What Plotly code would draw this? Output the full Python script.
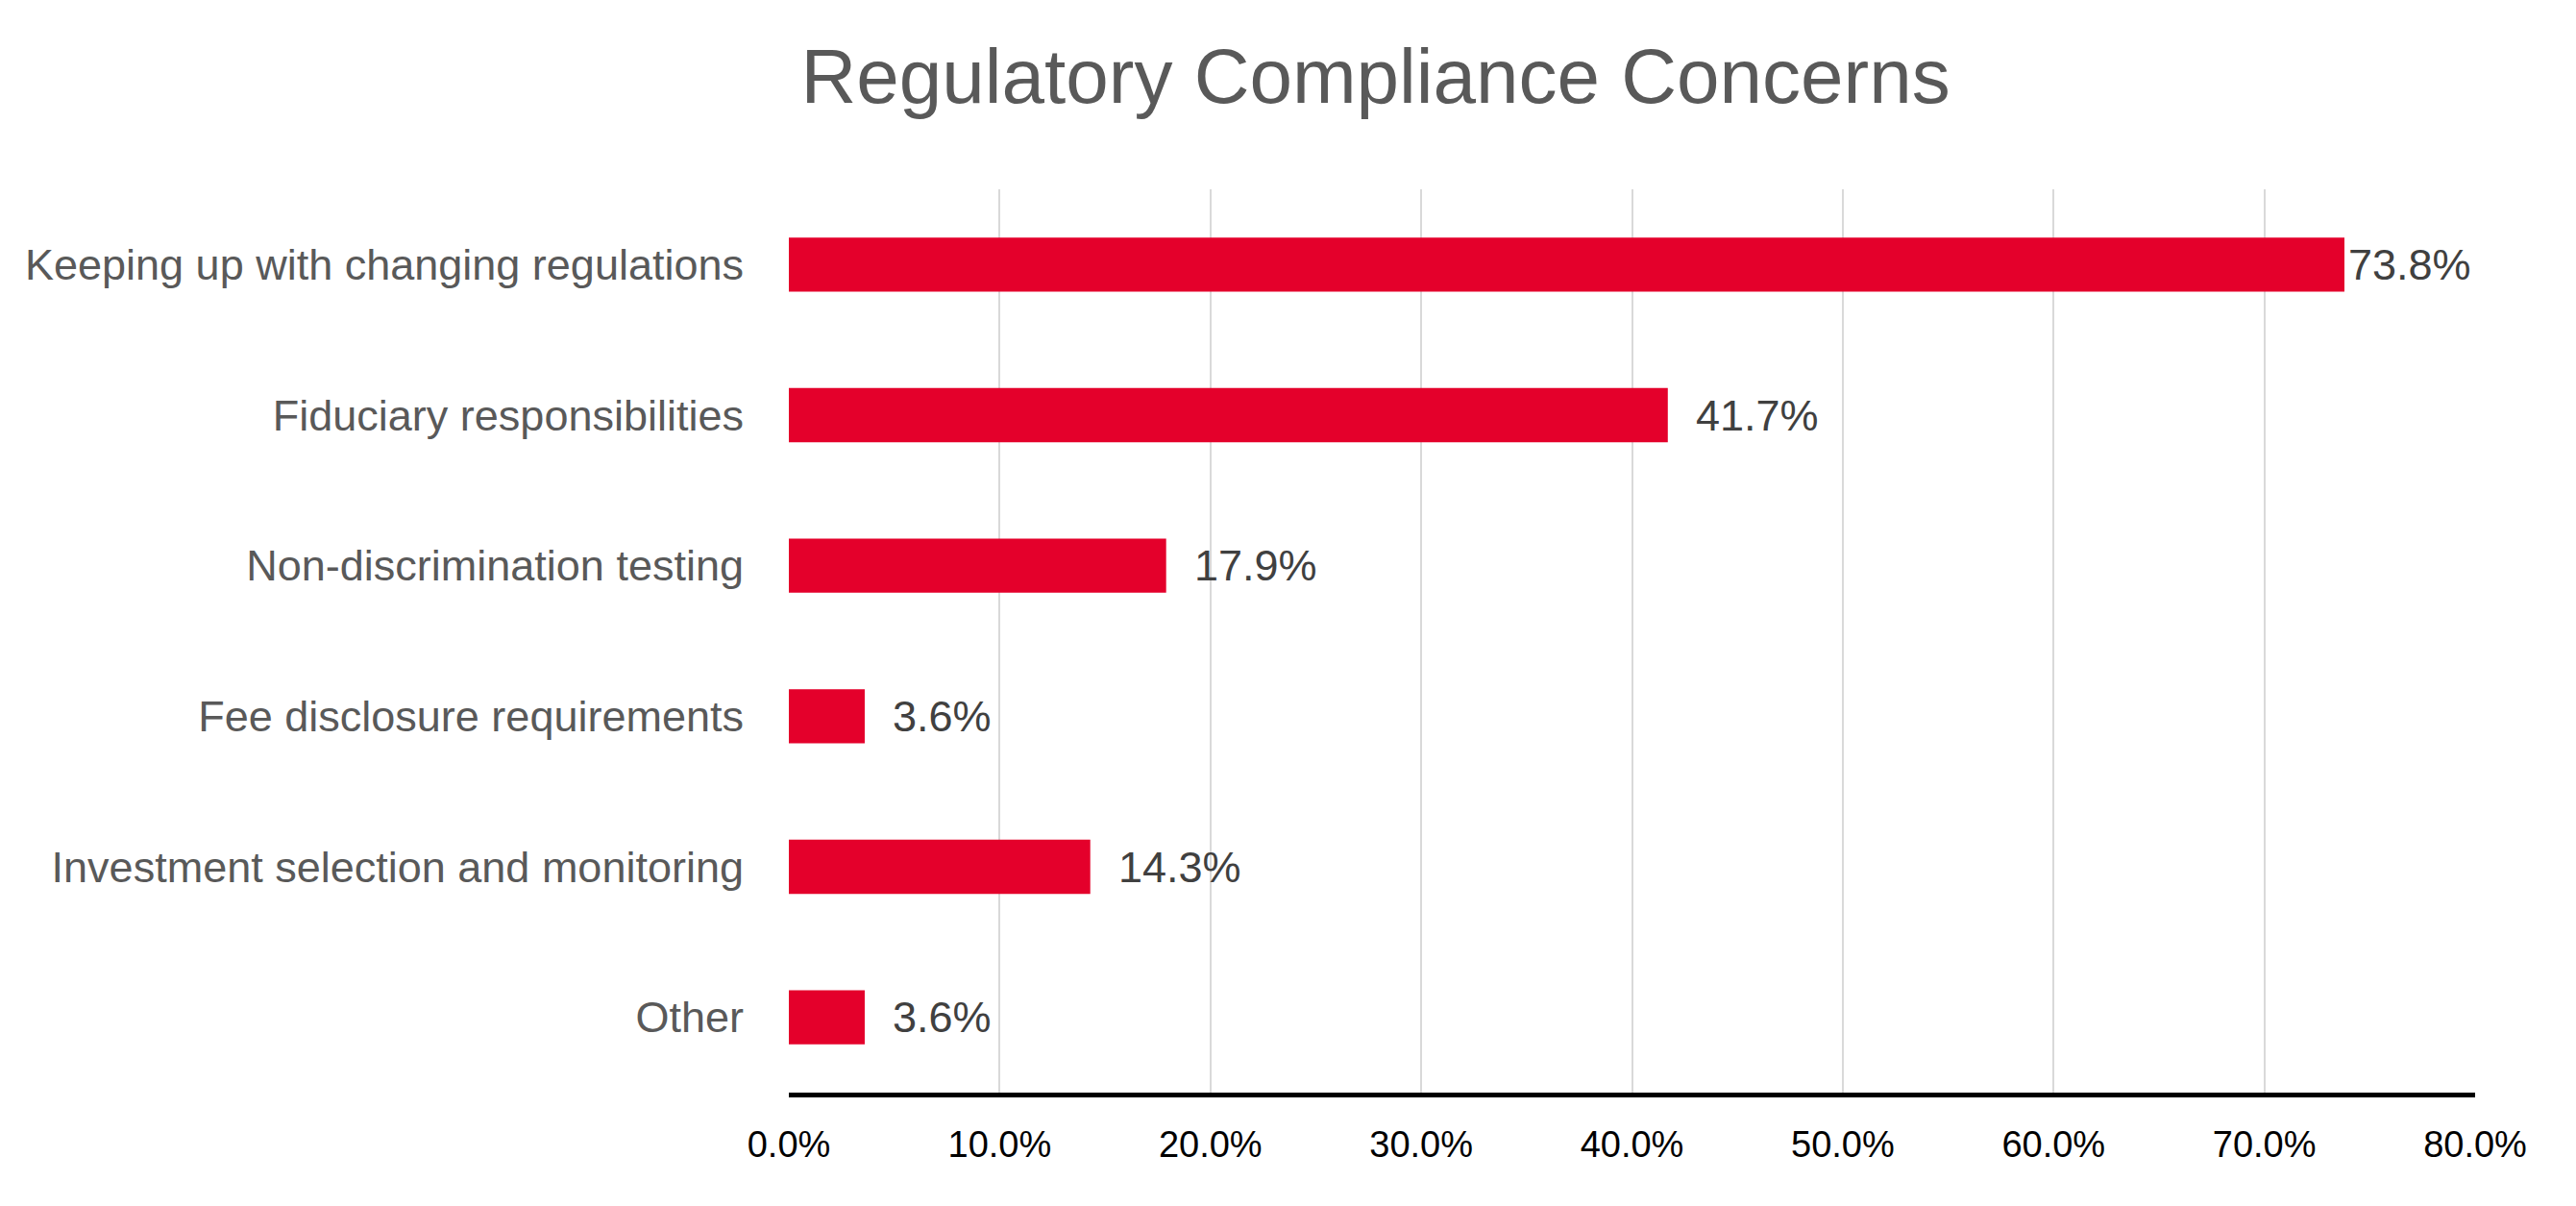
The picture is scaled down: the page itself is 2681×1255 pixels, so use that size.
import plotly.graph_objects as go

# data
categories = [
    "Keeping up with changing regulations",
    "Fiduciary responsibilities",
    "Non-discrimination testing",
    "Fee disclosure requirements",
    "Investment selection and monitoring",
    "Other",
]
shares = [0.738, 0.417, 0.179, 0.036, 0.143, 0.036]
tick_vals = [0.0, 0.1, 0.2, 0.3, 0.4, 0.5, 0.6, 0.7, 0.8]
tick_text = ["0.0%", "10.0%", "20.0%", "30.0%", "40.0%", "50.0%", "60.0%", "70.0%", "80.0%"]

FONT = "Liberation Sans Narrow, Arial Narrow, Liberation Sans, Arial, sans-serif"
RED = "#E4002B"

fig = go.Figure()
fig.add_trace(go.Bar(
    x=shares,
    y=categories,
    orientation="h",
    marker=dict(color=RED, line=dict(width=0)),
    hoverinfo="skip",
))

# value labels, Excel style: outside end, pulled back in when near the edge
x_max = tick_vals[-1]
for cat, v in zip(categories, shares):
    shift = 27 if v < x_max - 0.07 else 2
    fig.add_annotation(
        x=v, y=cat, xref="x", yref="y",
        text=f"{v * 100:.1f}%",
        showarrow=False, xanchor="left", yanchor="middle",
        xshift=shift,
        font=dict(family=FONT, size=45, color="#404040"),
    )

fig.update_layout(
    width=2681,
    height=1255,
    paper_bgcolor="white",
    plot_bgcolor="white",
    showlegend=False,
    bargap=0.64,
    margin=dict(l=813, r=113, t=189, b=126, pad=0),
    title=dict(
        text="Regulatory Compliance Concerns",
        x=0.531, xanchor="center",
        y=1 - 71 / 1255, yanchor="middle", yref="container",
        font=dict(family=FONT, size=80, color="#595959"),
    ),
    xaxis=dict(
        range=[0, x_max],
        tickvals=tick_vals,
        ticktext=tick_text,
        showgrid=True,
        gridcolor="#D9D9D9",
        gridwidth=2,
        zeroline=False,
        showline=True,
        linecolor="black",
        linewidth=5,
        ticks="",
        ticklabelstandoff=16,
        tickfont=dict(family=FONT, size=38, color="black"),
    ),
    yaxis=dict(
        categoryorder="array",
        categoryarray=categories,
        autorange="reversed",
        showgrid=False,
        zeroline=False,
        showline=False,
        ticks="",
        ticklabelstandoff=46,
        tickfont=dict(family=FONT, size=45, color="#595959"),
    ),
)

fig.write_html("out.html")
